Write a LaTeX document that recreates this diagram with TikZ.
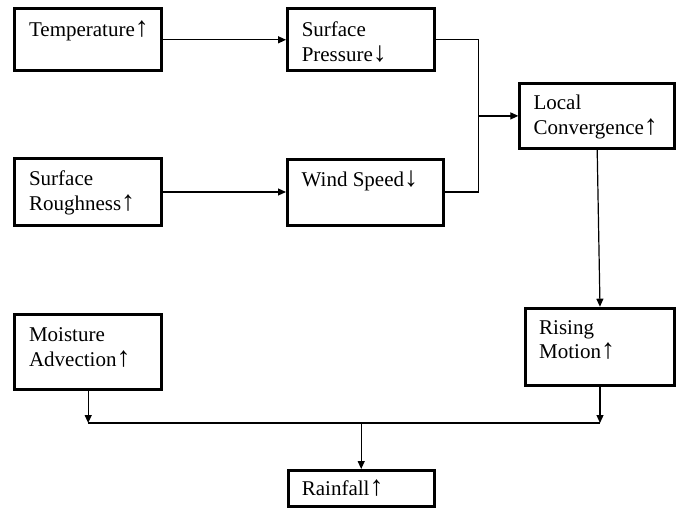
\documentclass[tikz,border=0pt]{standalone}
\usepackage{fontspec}
\setmainfont{Liberation Serif}
\usetikzlibrary{arrows.meta}

\newcommand{\arrup}{\smash{\fontsize{28}{25}\selectfont↑}}
\newcommand{\arrdown}{\smash{\fontsize{28}{25}\selectfont↓}}

\begin{document}
\begin{tikzpicture}[x=1pt, y=-1pt, >={Triangle[length=8pt, width=7pt]},
    box/.style={draw, line width=3pt, inner sep=0pt},
    lbl/.style={anchor=north west, inner sep=0pt, align=left,
        font=\fontsize{21}{24.5}\selectfont},
    conn/.style={line width=1.2pt}]

    \useasboundingbox (0,0) rectangle (681,509);

    % 1. Cac o
    \node[box, minimum width=146.7pt, minimum height=62pt] (temp)  at (88.2, 39.8) {};
    \node[box, minimum width=146.7pt, minimum height=62pt] (pres)  at (360.9, 39.8) {};
    \node[box, minimum width=146.7pt, minimum height=67pt] (rough) at (88.2, 192) {};
    \node[box, minimum width=156pt, minimum height=66pt]   (wind)  at (365.5, 192) {};
    \node[box, minimum width=154.7pt, minimum height=65.3pt] (conv) at (597.2, 115.9) {};
    \node[box, minimum width=149pt, minimum height=77pt]   (rise)  at (600, 346.7) {};
    \node[box, minimum width=146.7pt, minimum height=75.3pt] (moist) at (88.2, 351.9) {};
    \node[box, minimum width=146pt, minimum height=36pt]   (rain)  at (361.2, 488.5) {};

    % 2. Chu trong o
    \node[lbl] (temp-t)  at ([shift={(15.5,15.5)}]temp.north west)  {Temperature\arrup};
    \node[lbl] (pres-t)  at ([shift={(15.5,14.4)}]pres.north west)  {Surface\\Pressure\arrdown};
    \node[lbl] (rough-t) at ([shift={(15.5,13.7)}]rough.north west) {Surface\\Roughness\arrup};
    \node[lbl] (wind-t)  at ([shift={(15.5,14)}]wind.north west)    {Wind Speed\arrdown};
    \node[lbl] (conv-t)  at ([shift={(15,13.3)}]conv.north west)    {Local\\Convergence\arrup};
    \node[lbl] (rise-t)  at ([shift={(15,13.3)}]rise.north west)    {Rising\\Motion\arrup};
    \node[lbl] (moist-t) at ([shift={(15.5,15)}]moist.north west)   {Moisture\\Advection\arrup};
    \node[lbl] (rain-t)  at ([shift={(15,11.7)}]rain.north west)    {Rainfall\arrup};

    % 3. Diem noi
    \coordinate (merge) at ([xshift=-40pt]conv.west);
    \coordinate (bus) at ([yshift=46pt]rain.north);

    % 4. Mui ten
    \draw[conn, ->] (temp.east) -- (pres.west);
    \draw[conn, ->] (rough.east) -- (wind.west);
    \draw[conn] (pres.east) -| (merge) |- (wind.east);
    \draw[conn, ->] (merge) -- (conv.west);
    \draw[conn, ->] (conv.south) -- (rise.north);

    % Nhanh duoi
    \draw[conn, ->] (moist.south) -- (moist.south |- bus);
    \draw[conn, ->] (rise.south) -- (rise.south |- bus);
    \draw[conn] (moist.south |- bus) -- (rise.south |- bus);
    \draw[conn, ->] (bus) -- (rain.north);

\end{tikzpicture}
\end{document}
